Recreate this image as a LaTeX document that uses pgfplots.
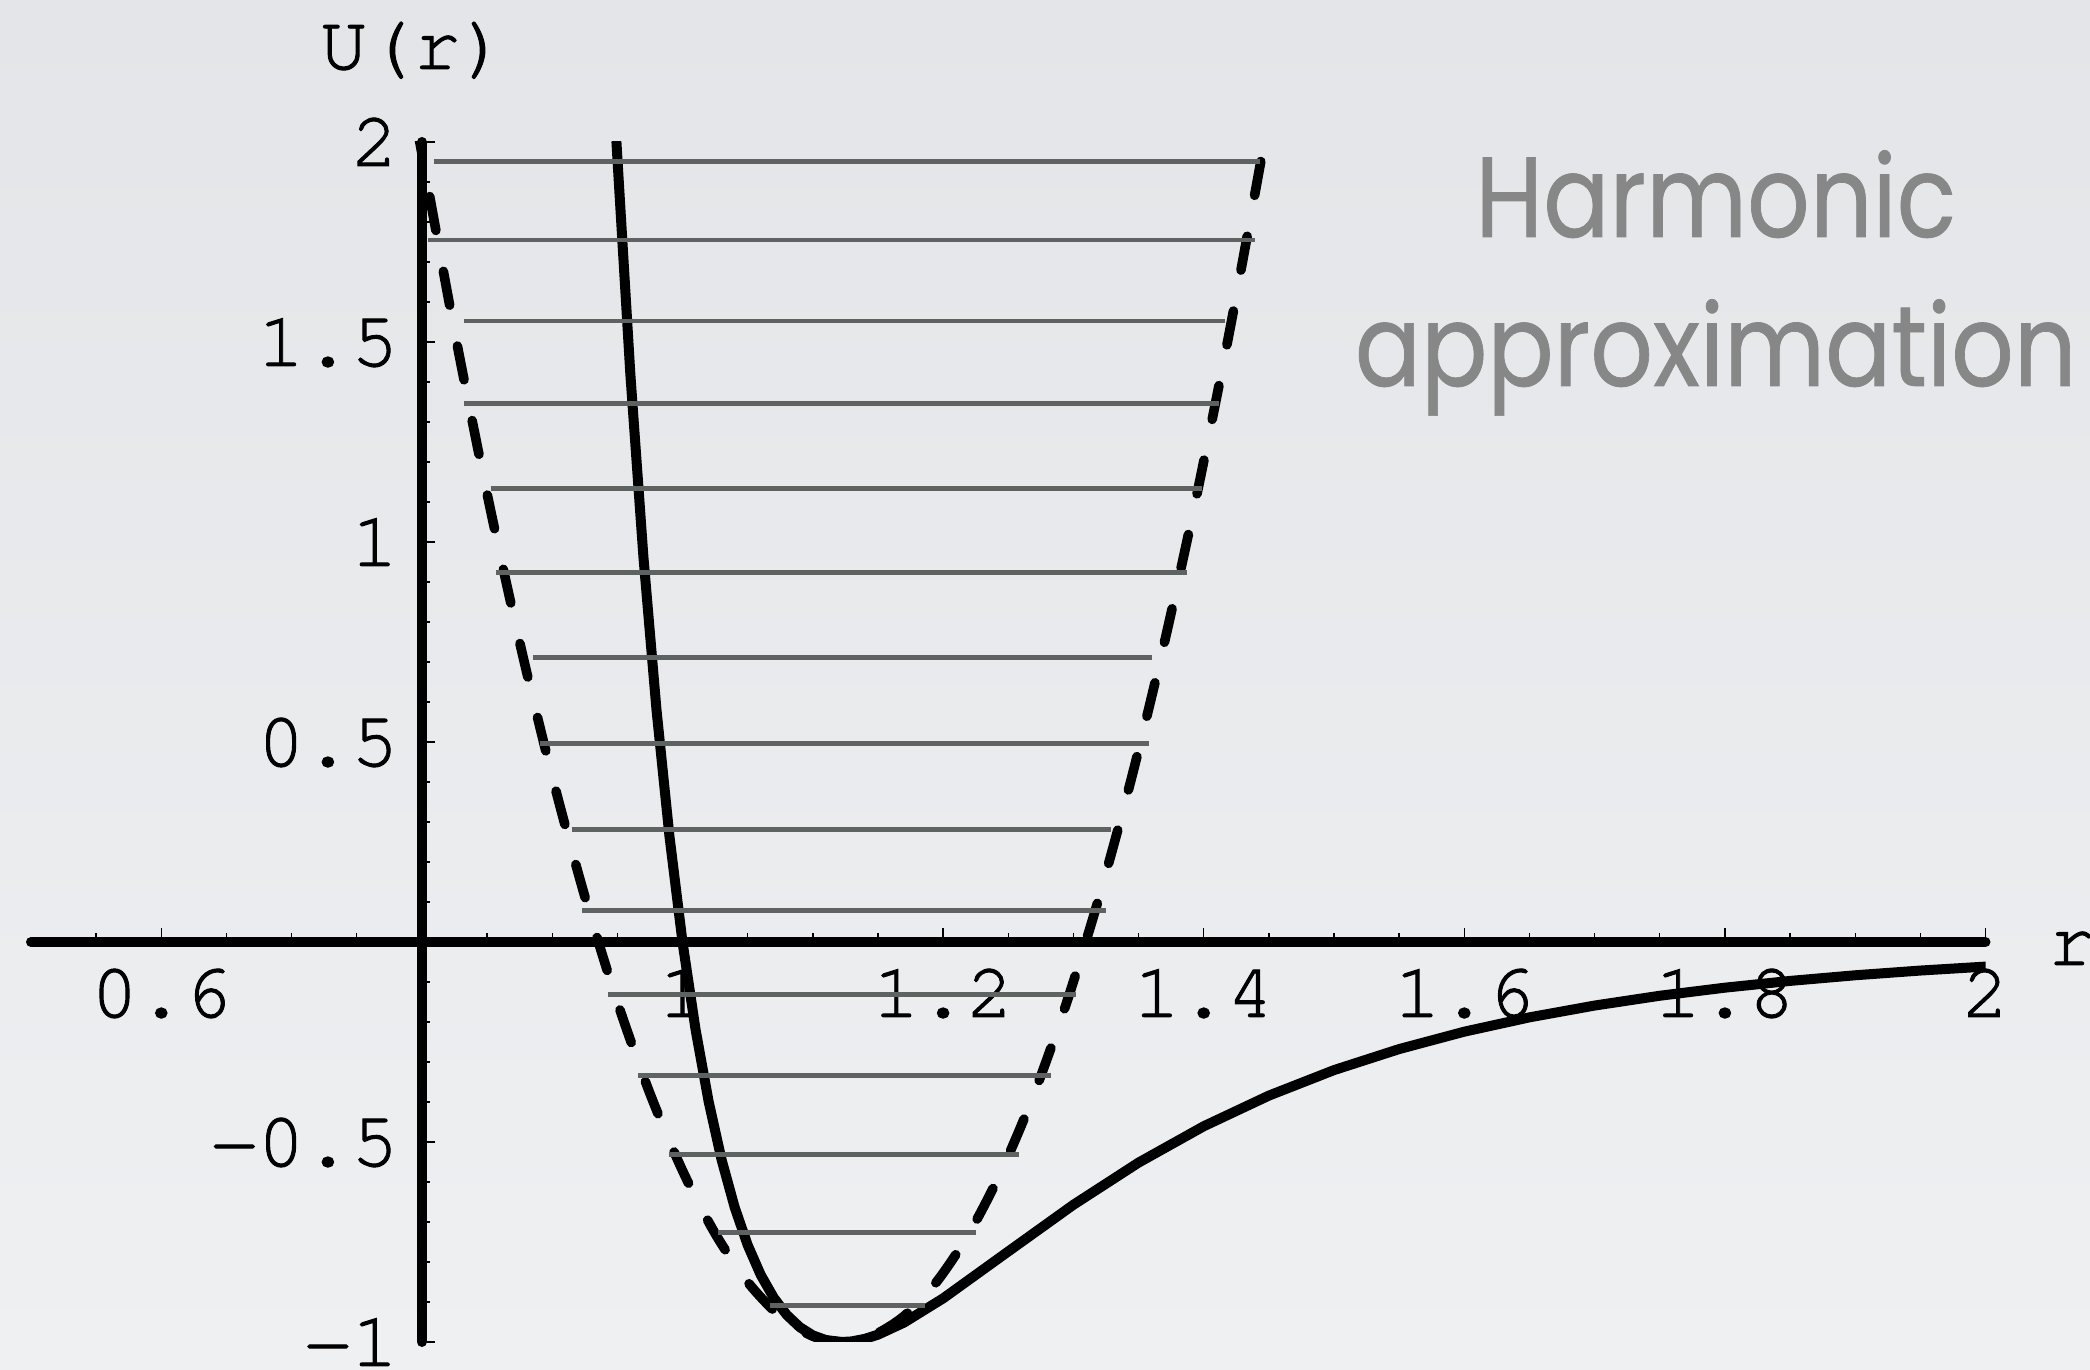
\documentclass[border=0pt]{standalone}
\usepackage{pgfplots}
\pgfplotsset{compat=1.18}
\usepackage{fontspec}
\setmainfont{TeX Gyre Cursor}
\newfontfamily\cour[FakeBold=1.2]{TeX Gyre Cursor}
\newfontfamily\titlefont[FakeStretch=0.86, FakeBold=0.6]{Poppins}

\definecolor{bgtop}{HTML}{E3E5E8}
\definecolor{bgbot}{HTML}{EEF0F2}
\definecolor{levelgray}{HTML}{5E6361}
\definecolor{textgray}{HTML}{878787}

\begin{document}
\begin{tikzpicture}
% page background
\shade[top color=bgtop, bottom color=bgbot] (-7.75pt,-7pt) rectangle (514.75pt,335.5pt);
\path[use as bounding box] (-7.75pt,-7pt) rectangle (514.75pt,335.5pt);

\begin{axis}[
  at={(0,0)}, anchor=south west,
  scale only axis, width=488.625pt, height=300pt,
  xmin=0.5, xmax=2, ymin=-1, ymax=2,
  hide axis,
  clip mode=individual,
  font=\cour\fontsize{19.5}{22}\selectfont,
]
% ---- axes (horizontal at U=0, vertical at r=0.8) ----
\draw[line width=2.5pt, line cap=round] (axis cs:0.5,0) -- (axis cs:2,0);
\draw[line width=2.5pt, line cap=round] (axis cs:0.8,-1) -- (axis cs:0.8,2);
% x ticks: major every 0.2, minor every 0.05
\pgfplotsinvokeforeach{0.55,0.65,0.7,0.75,0.85,0.9,0.95,1.05,1.1,1.15,1.25,1.3,1.35,1.45,1.5,1.55,1.65,1.7,1.75,1.85,1.9,1.95}{
  \draw[line width=0.35pt] (axis cs:#1,0) -- ++(0pt,2.2pt);
}
\pgfplotsinvokeforeach{0.6,1,1.2,1.4,1.6,1.8,2}{
  \draw[line width=0.35pt] (axis cs:#1,0) -- ++(0pt,3.4pt);
  \node[anchor=base, inner sep=0pt] at ([yshift=-18.75pt]axis cs:#1,0) {#1};
}
% y ticks: major every 0.5, minor every 0.1
\pgfplotsinvokeforeach{-0.9,-0.8,-0.7,-0.6,-0.4,-0.3,-0.2,-0.1,0.1,0.2,0.3,0.4,0.6,0.7,0.8,0.9,1.1,1.2,1.3,1.4,1.6,1.7,1.8,1.9}{
  \draw[line width=0.35pt] (axis cs:0.8,#1) -- ++(2.1pt,0pt);
}
\pgfplotsinvokeforeach{-1,-0.5,0.5,1,1.5,2}{
  \draw[line width=0.35pt] (axis cs:0.8,#1) -- ++(3.2pt,0pt);
}
\node[anchor=base east, inner sep=0pt] at ([xshift=-5.75pt,yshift=-6pt]axis cs:0.8,2) {2};
\node[anchor=base east, inner sep=0pt] at ([xshift=-5.75pt,yshift=-6pt]axis cs:0.8,1.5) {1.5};
\node[anchor=base east, inner sep=0pt] at ([xshift=-5.75pt,yshift=-6pt]axis cs:0.8,1) {1};
\node[anchor=base east, inner sep=0pt] at ([xshift=-5.75pt,yshift=-6pt]axis cs:0.8,0.5) {0.5};
\node[anchor=base east, inner sep=0pt] at ([xshift=-5.75pt,yshift=-6pt]axis cs:0.8,-0.5) {−0.5};
\node[anchor=base east, inner sep=0pt] at ([xshift=-5.75pt,yshift=-6pt]axis cs:0.8,-1) {−1};
% axis names
\node[anchor=base, inner sep=0pt] at ([xshift=-2pt,yshift=18.25pt]axis cs:0.8,2) {U(r)};
\node[anchor=base west, inner sep=0pt] at ([xshift=15.5pt,yshift=-5.75pt]axis cs:2,0) {r};

% ---- harmonic approximation (dashed parabola) ----
\addplot[line width=2.4pt, line cap=round, smooth, dash pattern=on 8.6pt off 10.4pt, dash phase=3pt] coordinates {
  (0.798,2.008) (0.800,1.9710) (0.825,1.5282) (0.850,1.1211) (0.875,0.7497)
  (0.900,0.4140) (0.925,0.1141) (0.950,-0.1502) (0.975,-0.3787) (1.000,-0.5715)
  (1.025,-0.7286) (1.050,-0.8500) (1.075,-0.9356) (1.100,-0.9856) (1.1225,-1.0000)
  (1.145,-0.9855) (1.170,-0.9354) (1.195,-0.8496) (1.220,-0.7281) (1.245,-0.5710)
  (1.270,-0.3780) (1.295,-0.1494) (1.320,0.1150) (1.345,0.4150) (1.370,0.7508)
  (1.395,1.1224) (1.420,1.5296) (1.445,1.9725) (1.447,2.0095)
};

% ---- Lennard-Jones potential (solid) ----
\addplot[line width=2.5pt, line cap=round, line join=round] coordinates {
  (0.9493,2.0000) (0.95,1.9609) (0.96,1.4182) (0.97,0.9629) (0.98,0.5819)
  (0.99,0.2641) (1.00,0.0000) (1.01,-0.2184) (1.02,-0.3979) (1.03,-0.5444)
  (1.04,-0.6629) (1.05,-0.7575) (1.06,-0.8320) (1.07,-0.8893) (1.08,-0.9322)
  (1.09,-0.9629) (1.10,-0.9834) (1.11,-0.9952) (1.1225,-1.0000) (1.13,-0.9985)
  (1.14,-0.9921) (1.15,-0.9817) (1.17,-0.9515) (1.20,-0.8910) (1.25,-0.7737)
  (1.30,-0.6570) (1.35,-0.5516) (1.40,-0.4607) (1.45,-0.3841) (1.50,-0.3203)
  (1.55,-0.2677) (1.60,-0.2242) (1.65,-0.1884) (1.70,-0.1589) (1.75,-0.1344)
  (1.80,-0.1142) (1.85,-0.0973) (1.90,-0.0832) (1.95,-0.0714) (2.00,-0.0615)
};

% ---- energy levels ----
\pgfplotsset{level/.style={line width=1.2pt, color=levelgray}}
\addplot[level] coordinates {(0.809,1.951) (1.443,1.951)};
\addplot[level] coordinates {(0.805,1.755) (1.439,1.755)};
\addplot[level] coordinates {(0.832,1.5525) (1.416,1.5525)};
\addplot[level] coordinates {(0.832,1.347) (1.412,1.347)};
\addplot[level] coordinates {(0.853,1.134) (1.399,1.134)};
\addplot[level] coordinates {(0.857,0.923) (1.387,0.923)};
\addplot[level] coordinates {(0.885,0.711) (1.360,0.711)};
\addplot[level] coordinates {(0.891,0.497) (1.358,0.497)};
\addplot[level] coordinates {(0.915,0.282) (1.329,0.282)};
\addplot[level] coordinates {(0.923,0.078) (1.325,0.078)};
\addplot[level] coordinates {(0.943,-0.131) (1.302,-0.131)};
\addplot[level] coordinates {(0.966,-0.334) (1.283,-0.334)};
\addplot[level] coordinates {(0.990,-0.531) (1.2585,-0.531)};
\addplot[level] coordinates {(1.027,-0.726) (1.225,-0.726)};
\addplot[level] coordinates {(1.067,-0.909) (1.186,-0.909)};

% ---- caption text ----
\node[anchor=base, inner sep=0pt, text=textgray, font=\titlefont\fontsize{28.5}{30}\selectfont] at (axis cs:1.793,1.7625) {Harmonic};
\node[anchor=base, inner sep=0pt, text=textgray, font=\titlefont\fontsize{28.5}{30}\selectfont] at (axis cs:1.793,1.39) {approximation};
\end{axis}
\end{tikzpicture}
\end{document}
